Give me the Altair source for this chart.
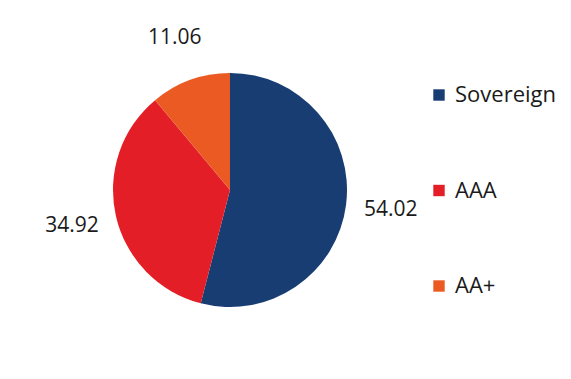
import altair as alt
import pandas as pd

categories = ["Sovereign", "AAA", "AA+"]
values = [54.02, 34.92, 11.06]
colors = ["#173d73", "#e31e26", "#ec5a24"]

df = pd.DataFrame({"cat": categories, "val": values, "ord": [0, 1, 2]})
df["label"] = df["val"].map(lambda v: f"{v:.2f}")

FONT = "Open Sans"
cx, cy = 222, 182

base = alt.Chart(df).encode(
    theta=alt.Theta("val:Q", stack=True),
    order=alt.Order("ord:Q"),
)

pie = base.mark_arc(stroke=None).encode(
    color=alt.Color(
        "cat:N",
        sort=categories,
        scale=alt.Scale(domain=categories, range=colors),
        legend=alt.Legend(
            title=None,
            orient="none",
            legendX=420,
            legendY=76,
            symbolType="square",
            symbolSize=130,
            symbolStrokeWidth=0,
            labelFont=FONT,
            labelFontSize=22,
            labelColor="#1a1a1a",
            labelOffset=5,
            rowPadding=73.5,
        ),
    ),
    x=alt.value(cx),
    y=alt.value(cy),
    radius=alt.value(117),
)

labels = base.mark_text(font=FONT, fontSize=21, color="#1a1a1a").encode(
    text="label:N",
    x=alt.value(cx),
    y=alt.value(cy),
    radius=alt.value(162),
)

chart = (
    alt.layer(pie, labels)
    .properties(width=555, height=363, autosize=alt.AutoSizeParams(type="none"), padding=0)
    .configure_view(stroke=None)
)

chart.save("out.html", embed_options={"renderer": "svg", "actions": False})
